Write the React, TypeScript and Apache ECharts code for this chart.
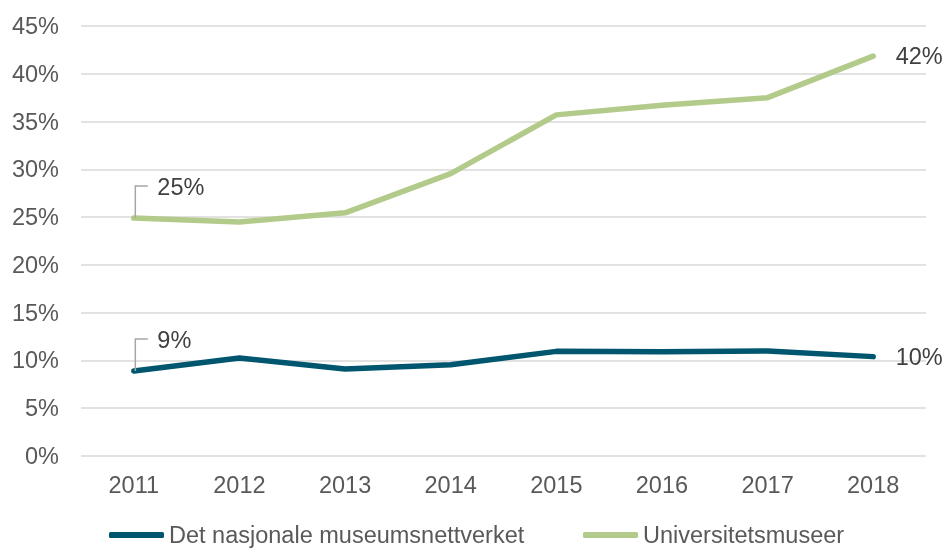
import React, { useEffect, useRef } from "react";
import * as echarts from "echarts";

const years = ["2011", "2012", "2013", "2014", "2015", "2016", "2017", "2018"];
const seriesNames = ["Det nasjonale museumsnettverket", "Universitetsmuseer"];
const museumsnettverket = [8.9, 10.25, 9.1, 9.55, 10.95, 10.9, 11.0, 10.4];
const universitetsmuseer = [24.9, 24.5, 25.45, 29.55, 35.7, 36.7, 37.5, 41.85];
const colors = ["#00566E", "#B3CB8A"];

const FONT = "'Liberation Sans', Arial, sans-serif";
const FS = 23.5;

function buildData(values: number[]) {
  const last = values.length - 1;
  return values.map((v, i) => {
    if (i === 0) {
      return {
        value: v,
        label: { show: true, position: "right", distance: 23, offset: [0, -31] },
      };
    }
    if (i === last) {
      return { value: v, label: { show: true, position: "right", distance: 22 } };
    }
    return { value: v };
  });
}

export default function App() {
  const ref = useRef<HTMLDivElement>(null);
  useEffect(() => {
    if (!ref.current) return;
    const chart = echarts.init(ref.current, undefined, { renderer: "svg" });
    const mkSeries = (name: string, values: number[], color: string) => ({
      name,
      type: "line",
      data: buildData(values),
      symbol: "circle",
      symbolSize: 1,
      itemStyle: { color },
      lineStyle: { color, width: 5.5, cap: "round", join: "round" },
      label: {
        formatter: (p: any) => Math.round(p.value) + "%",
        fontFamily: FONT,
        fontSize: FS,
        color: "#404040",
      },
      emphasis: { disabled: true },
    });
    const legendBase = {
      top: 523,
      padding: 0,
      itemWidth: 55,
      itemHeight: 6,
      icon: "roundRect",
      textStyle: {
        fontFamily: FONT,
        fontSize: FS,
        lineHeight: 24,
        color: "#595959",
      },
    };
    chart.setOption({
      animation: false,
      color: colors,
      grid: { left: 81, right: 19, top: 26, bottom: 92 },
      xAxis: {
        type: "category",
        data: years,
        boundaryGap: true,
        axisLine: { show: false },
        axisTick: { show: false },
        axisLabel: { fontFamily: FONT, fontSize: FS, color: "#595959", margin: 17 },
      },
      yAxis: {
        type: "value",
        min: 0,
        max: 45,
        interval: 5,
        axisLine: { show: false },
        axisTick: { show: false },
        splitLine: { lineStyle: { color: "#D9D9D9", width: 1.5 } },
        axisLabel: {
          formatter: "{value}%",
          fontFamily: FONT,
          fontSize: FS,
          color: "#595959",
          margin: 22,
        },
      },
      legend: [
        { ...legendBase, left: 109, data: [seriesNames[0]] },
        { ...legendBase, left: 583, data: [seriesNames[1]] },
      ],
      series: [
        mkSeries(seriesNames[0], museumsnettverket, colors[0]),
        mkSeries(seriesNames[1], universitetsmuseer, colors[1]),
      ],
    });
    const leaders = [museumsnettverket, universitetsmuseer].map((vals, si) => {
      const p = chart.convertToPixel({ seriesIndex: si }, [0, vals[0]]) as number[];
      return {
        type: "polyline",
        silent: true,
        shape: {
          points: [
            [p[0] + 1.5, p[1]],
            [p[0] + 1.5, p[1] - 32],
            [p[0] + 14, p[1] - 32],
          ],
        },
        style: { stroke: "#A6A6A6", lineWidth: 1.5, fill: "none" },
        z: 10,
      };
    });
    chart.setOption({ graphic: leaders });
    return () => chart.dispose();
  }, []);
  return (
    <div
      ref={ref}
      style={{ position: "fixed", left: 0, top: 0, width: 945, height: 548 }}
    />
  );
}
